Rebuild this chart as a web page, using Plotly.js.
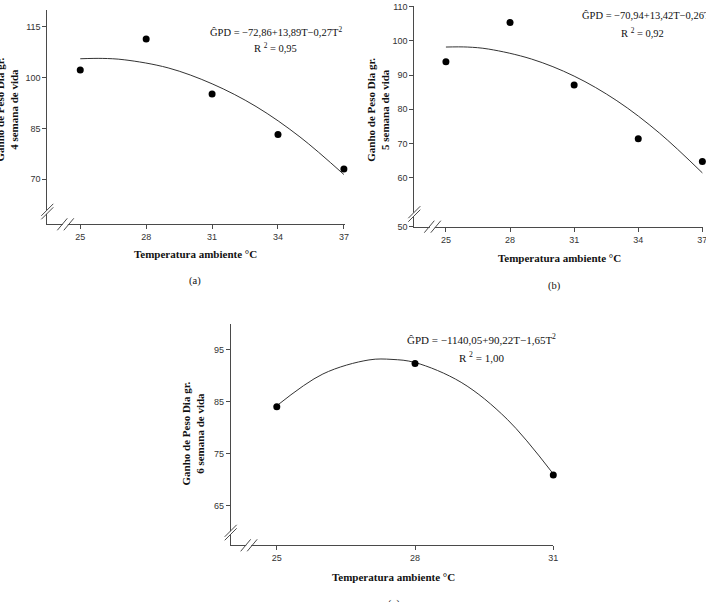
<!DOCTYPE html>
<html>
<head>
<meta charset="utf-8">
<script src="https://cdn.plot.ly/plotly-3.0.1.min.js"></script>
<style>html,body{margin:0;padding:0;background:#fff}#chart{width:706px;height:602px}</style>
</head>
<body>
<div id="chart"></div>
<script>
// ---- data ----
var tempA = [25, 28, 31, 34, 37];
var gpdA = [102.3, 111.4, 95.2, 83.2, 73.0];
var fitTempA = [25, 26, 27, 29, 31, 33, 35, 37];
var fitGpdA = [105.6, 105.7, 105.3, 102.9, 98.2, 91.5, 82.5, 71.4];

var tempB = [25, 28, 31, 34, 37];
var gpdB = [93.9, 105.4, 87.1, 71.4, 64.7];
var fitTempB = [25, 26, 27, 29, 31, 33, 35, 37];
var fitGpdB = [98.2, 98.2, 97.6, 94.7, 89.7, 82.5, 73.0, 61.4];

var tempC = [25, 28, 31];
var gpdC = [84.0, 92.3, 70.9];
var fitTempC = [25, 26, 27, 27.5, 28, 29, 30, 31];
var fitGpdC = [84.2, 90.3, 93.0, 93.1, 92.5, 88.7, 81.6, 71.1];

var xTicksAB = [25, 28, 31, 34, 37];
var xTicksC = [25, 28, 31];
var yTicksA = [70, 85, 100, 115];
var yTicksB = [60, 70, 80, 90, 100, 110];
var yTicksC = [65, 75, 85, 95];
var yBottomLabelB = '50';

var eqA = 'ĜPD = −72,86+13,89T−0,27T<sup>2</sup>';
var r2A = 'R <sup>2</sup> = 0,95';
var eqB = 'ĜPD = −70,94+13,42T−0,26T<sup>2</sup>';
var r2B = 'R <sup>2</sup> = 0,92';
var eqC = 'ĜPD = −1140,05+90,22T−1,65T<sup>2</sup>';
var r2C = 'R <sup>2</sup> = 1,00';

var yTitleA = 'Ganho de Peso Dia gr.<br>4 semana de vida';
var yTitleB = 'Ganho de Peso Dia gr.<br>5 semana de vida';
var yTitleC = 'Ganho de Peso Dia gr.<br>6 semana de vida';
var xTitle = 'Temperatura ambiente °C';
var captions = ['(a)', '(b)', '(c)'];

// ---- layout helpers ----
var W = 706, H = 602;
function px(x) { return x / W; }
function py(y) { return 1 - y / H; }

var rangeA = [56.7, 120.0];
var rangeB = [45.67, 110.2];
var rangeC = [57.4, 99.9];

var axisColor = '#4a4a4a';
var tickFont = {family: 'Liberation Sans, Arial, sans-serif', size: 9, color: '#333'};
var serif = 'Liberation Serif, Times New Roman, serif';

function xax(domain, range, tickvals, anchor) {
  return {domain: domain, range: range, anchor: anchor, tickvals: tickvals,
    ticktext: tickvals.map(String), showgrid: false, zeroline: false, showline: true,
    linecolor: axisColor, linewidth: 1, ticks: 'outside', ticklen: 4, tickcolor: axisColor,
    tickfont: tickFont, ticklabeloverflow: 'allow', fixedrange: true};
}
function yax(domain, range, tickvals, ticktext, anchor) {
  return {domain: domain, range: range, anchor: anchor, tickvals: tickvals,
    ticktext: ticktext, showgrid: false, zeroline: false, showline: true,
    linecolor: axisColor, linewidth: 1, ticks: 'outside', ticklen: 4, tickcolor: axisColor,
    tickfont: tickFont, ticklabeloverflow: 'allow', fixedrange: true};
}

function pts(x, y, xa, ya) {
  return {x: x, y: y, xaxis: xa, yaxis: ya, type: 'scatter', mode: 'markers',
    marker: {color: '#000', size: 7}, cliponaxis: false, showlegend: false, hoverinfo: 'x+y'};
}
function fit(x, y, xa, ya) {
  return {x: x, y: y, xaxis: xa, yaxis: ya, type: 'scatter', mode: 'lines',
    line: {color: '#333', width: 1, shape: 'spline', smoothing: 1}, cliponaxis: false,
    showlegend: false, hoverinfo: 'skip'};
}

var data = [
  fit(fitTempA, fitGpdA, 'x', 'y'), pts(tempA, gpdA, 'x', 'y'),
  fit(fitTempB, fitGpdB, 'x2', 'y2'), pts(tempB, gpdB, 'x2', 'y2'),
  fit(fitTempC, fitGpdC, 'x3', 'y3'), pts(tempC, gpdC, 'x3', 'y3')
];

// axis-break marks (pixel offsets from the lower-left corner of each plot)
function breaks(xr, yr) {
  var base = {xref: xr + ' domain', yref: yr + ' domain', xsizemode: 'pixel', ysizemode: 'pixel',
    xanchor: 0, yanchor: 0, layer: 'above'};
  function s(o) { return Object.assign({}, base, o); }
  return [
    s({type: 'rect', x0: -2, x1: 2, y0: 10.5, y1: 14, fillcolor: '#fff', line: {width: 0}}),
    s({type: 'line', x0: -6, y0: 5, x1: 6, y1: 17, line: {color: axisColor, width: 1}}),
    s({type: 'line', x0: -6, y0: 8.5, x1: 6, y1: 20.5, line: {color: axisColor, width: 1}}),
    s({type: 'rect', x0: 15.5, x1: 20.5, y0: -2, y1: 2, fillcolor: '#fff', line: {width: 0}}),
    s({type: 'line', x0: 10, y0: -6, x1: 20, y1: 6, line: {color: axisColor, width: 1}}),
    s({type: 'line', x0: 16.5, y0: -6, x1: 26.5, y1: 6, line: {color: axisColor, width: 1}})
  ];
}

function ann(text, x, y, size, bold, extra) {
  return Object.assign({text: bold ? '<b>' + text + '</b>' : text, x: px(x), y: py(y),
    xref: 'paper', yref: 'paper', showarrow: false, xanchor: 'center', yanchor: 'middle',
    font: {family: serif, size: size, color: '#111'}}, extra || {});
}

var annotations = [
  ann(eqA, 276, 31.7, 10.5, false), ann(r2A, 275, 47.3, 10.5, false),
  ann(eqB, 580, 14, 10.5, false, {xanchor: 'left'}), ann(r2B, 642.5, 32, 10.5, false),
  ann(eqC, 481.7, 339, 11, false), ann(r2C, 482, 356.7, 11, false),
  ann(yTitleA, 6.5, 110, 11, true, {textangle: -90}),
  ann(yTitleB, 377.7, 110, 11, true, {textangle: -90}),
  ann(yTitleC, 192.5, 434, 11, true, {textangle: -90}),
  ann(xTitle, 195.7, 254, 11, true), ann(xTitle, 559, 258, 11, true), ann(xTitle, 393, 576.7, 11, true),
  ann(captions[0], 195, 281, 10.5, false), ann(captions[1], 554.3, 286, 10.5, false),
  ann(captions[2], 393.5, 604, 10.5, false)
];

var layout = {
  width: W, height: H, margin: {l: 0, r: 0, t: 0, b: 0}, paper_bgcolor: '#fff', plot_bgcolor: '#fff',
  showlegend: false,
  xaxis: xax([px(47.3), px(345)], [23.5, 37.05], xTicksAB, 'y'),
  yaxis: yax([py(224.3), py(10)], rangeA, yTicksA, yTicksA.map(String), 'x'),
  xaxis2: xax([px(414.3), px(703)], [23.52, 37.03], xTicksAB, 'y2'),
  yaxis2: yax([py(226.7), py(6)], rangeB, [rangeB[0]].concat(yTicksB),
    [yBottomLabelB].concat(yTicksB.map(String)), 'x2'),
  xaxis3: xax([px(230.7), px(553.3)], [24.0, 31.0], xTicksC, 'y3'),
  yaxis3: yax([py(545.3), py(324)], rangeC, yTicksC, yTicksC.map(String), 'x3'),
  shapes: breaks('x', 'y').concat(breaks('x2', 'y2')).concat(breaks('x3', 'y3')),
  annotations: annotations
};

Plotly.newPlot('chart', data, layout, {displayModeBar: false, staticPlot: true});
</script>
</body>
</html>
